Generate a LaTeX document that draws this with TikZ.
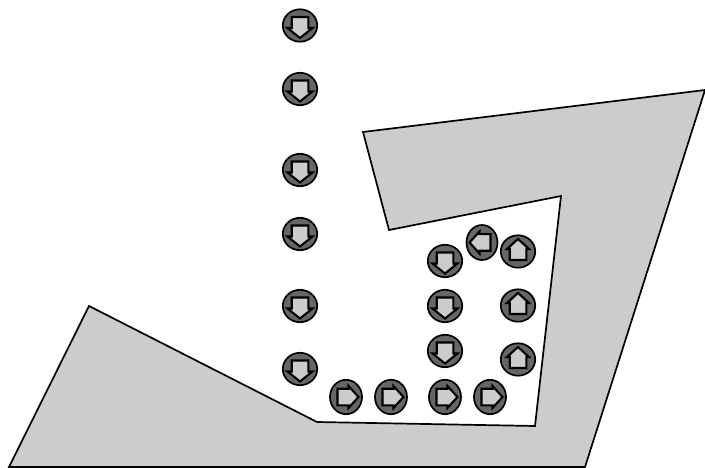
\documentclass[tikz,border=0pt]{standalone}
\definecolor{regiongray}{HTML}{CCCCCC}
\definecolor{discgray}{HTML}{666666}
\tikzset{
  region/.style={draw=black,fill=regiongray,line width=1.7pt,line join=miter},
  disc/.style={draw=black,fill=discgray,line width=1.7pt},
  arrowbody/.style={draw=black,fill=regiongray,line width=2.1pt,line join=miter},
}
% #1 x, #2 y, #3 rotation (0 = down), #4 #5 radii, #6 half width of the wings
\newcommand{\markerarrow}[6]{%
  \begin{scope}[shift={(#1,#2)}]
    \path[disc] (0,0) ellipse [x radius=#4,y radius=#5];
    \path[arrowbody,rotate=#3] (-8.3,-8.5) -- (-8.3,2.5) -- (-#6,2.5) -- (0,12.5) -- (#6,2.5) -- (8.3,2.5) -- (8.3,-8.5) -- cycle;
  \end{scope}}
\begin{document}
\begin{tikzpicture}[x=1pt,y=-1pt]
\useasboundingbox (0,0) rectangle (705,468);
\path[region] (89,306) -- (317,422) -- (535,426) -- (561,196) -- (389,230) -- (363,132) -- (705,90) -- (585,467) -- (9,467) -- cycle;
\foreach \x/\y in {300/25.5,300/89,300/170,300/234,300/306,300/369,445/261,445/306,445/351}
  {\markerarrow{\x}{\y}{0}{17.2}{16.2}{12.5}}
\foreach \x/\y in {518/251.5,518/305.5,518/359.5}
  {\markerarrow{\x}{\y}{180}{17.2}{16.2}{11}}
\foreach \x/\y in {346/397,391/397,445/397,490/397}
  {\markerarrow{\x}{\y}{90}{16}{17.2}{11}}
\markerarrow{482}{242.5}{-90}{15.5}{17.5}{11}
\end{tikzpicture}
\end{document}
